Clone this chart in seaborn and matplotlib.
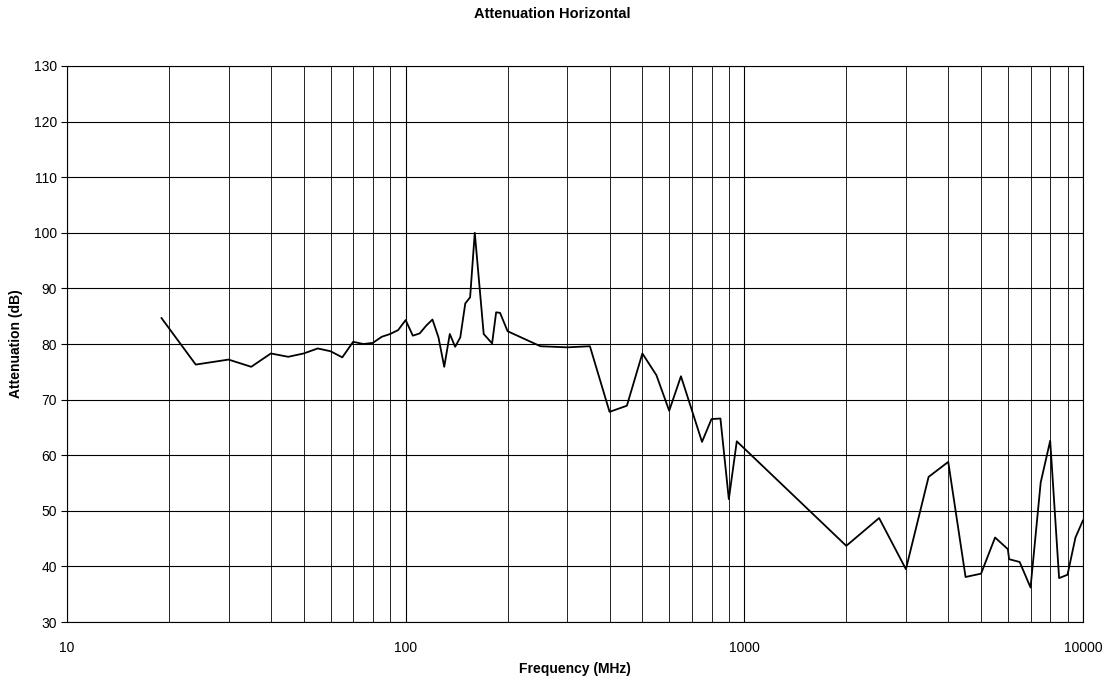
import pandas as pd
import matplotlib
matplotlib.use("Agg")
import matplotlib.pyplot as plt
import seaborn as sns
from matplotlib.ticker import LogLocator, FixedLocator, NullFormatter, FuncFormatter

# Frequency (MHz) and attenuation (dB)
freq_mhz = [19, 24, 30, 35, 40, 45, 50, 55, 60, 65, 70, 75, 80, 85, 90, 95,
            100, 105, 110, 115, 120, 125, 130, 135, 140, 145, 150, 155, 160,
            170, 180, 185, 190, 200, 250, 300, 350, 400, 450, 500, 550, 600,
            650, 750, 800, 850, 900, 950, 2000, 2500, 3000, 3500, 4000, 4500,
            5000, 5500, 6000, 6050, 6500, 7000, 7500, 8000, 8500, 9000, 9500,
            10000]
atten_db = [84.7, 76.3, 77.2, 75.9, 78.3, 77.7, 78.3, 79.2, 78.7, 77.6, 80.4,
            80.0, 80.2, 81.3, 81.8, 82.5, 84.3, 81.5, 81.9, 83.3, 84.4, 81.2,
            75.9, 81.8, 79.5, 81.2, 87.3, 88.4, 100.0, 81.8, 80.1, 85.7, 85.6,
            82.3, 79.6, 79.4, 79.6, 67.8, 68.9, 78.3, 74.4, 68.0, 74.2, 62.4,
            66.5, 66.6, 52.1, 62.5, 43.7, 48.7, 39.5, 56.1, 58.8, 38.1, 38.7,
            45.2, 43.1, 41.3, 40.8, 36.2, 55.1, 62.6, 37.9, 38.5, 45.2, 48.3]

y_ticks = [30, 40, 50, 60, 70, 80, 90, 100, 110, 120, 130]
x_ticks = [10, 100, 1000, 10000]

df = pd.DataFrame({"Frequency (MHz)": freq_mhz, "Attenuation (dB)": atten_db})

sns.set_style("white")
plt.rcParams["font.family"] = ["Liberation Sans", "DejaVu Sans"]
plt.rcParams["text.color"] = "black"
plt.rcParams["axes.labelcolor"] = "black"
plt.rcParams["xtick.color"] = "black"
plt.rcParams["ytick.color"] = "black"

fig = plt.figure(figsize=(11.05, 6.81), dpi=100)
ax = fig.add_axes([0.0606, 0.0866, 0.9195, 0.8165])

sns.lineplot(data=df, x="Frequency (MHz)", y="Attenuation (dB)", sort=False,
             color="black", linewidth=1.3, ax=ax, estimator=None)

ax.set_xscale("log")
ax.set_xlim(10, 10000)
ax.set_ylim(30, 130)
ax.xaxis.set_major_locator(FixedLocator(x_ticks))
ax.xaxis.set_major_formatter(FuncFormatter(lambda v, p: f"{int(v)}"))
ax.xaxis.set_minor_locator(LogLocator(base=10, subs=range(2, 10)))
ax.xaxis.set_minor_formatter(NullFormatter())
ax.set_yticks(y_ticks)

# Gridlines like the spreadsheet chart
ax.grid(True, which="major", axis="both", color="black", linewidth=0.8)
ax.grid(True, which="minor", axis="x", color="black", linewidth=0.6)

ax.tick_params(axis="y", which="both", direction="out", length=4, width=0.8,
               left=True, labelsize=10, pad=3)
ax.tick_params(axis="x", which="both", length=0, labelsize=10, pad=14)

for s in ax.spines.values():
    s.set_color("black")
    s.set_linewidth(0.8)

ax.set_xlabel("Frequency (MHz)", fontsize=10, fontweight="bold", labelpad=5)
ax.set_ylabel("Attenuation (dB)", fontsize=10, fontweight="bold", labelpad=8)
fig.text(0.5, 1 - 14 / 681, "Attenuation Horizontal", ha="center", va="center",
         fontsize=10.5, fontweight="bold")

fig.savefig("out.png", dpi=100, facecolor="white")
